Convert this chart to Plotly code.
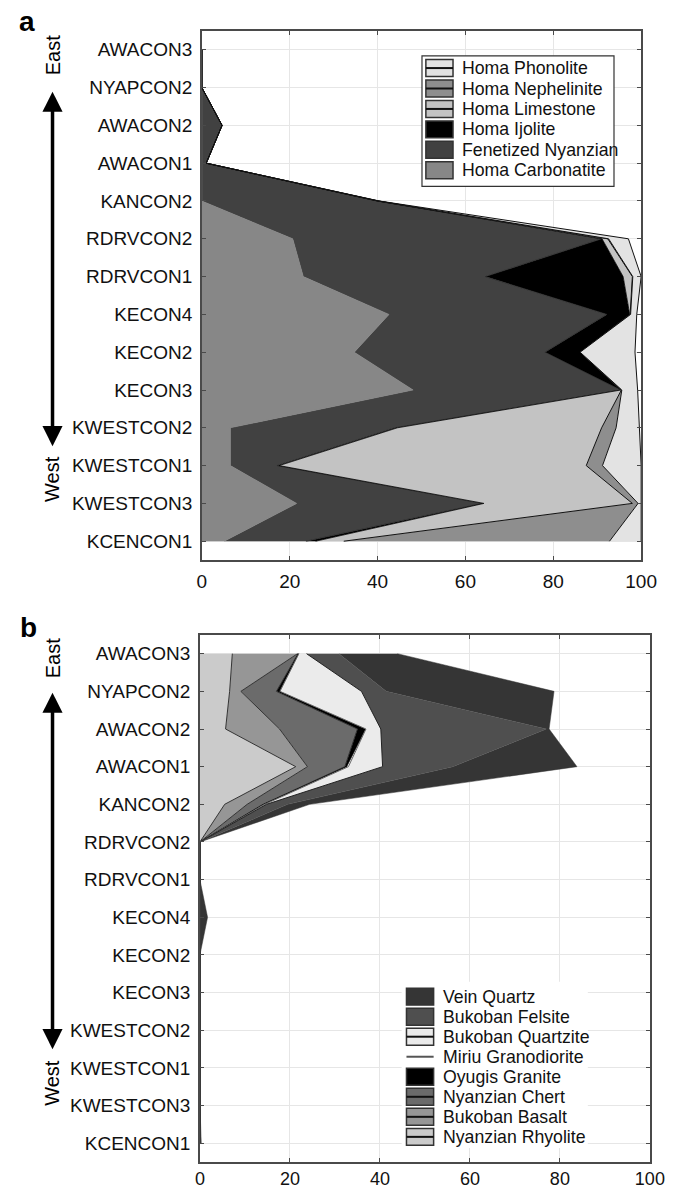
import plotly.graph_objects as go

# ---------------- data ----------------
samples = ["AWACON3", "NYAPCON2", "AWACON2", "AWACON1", "KANCON2", "RDRVCON2", "RDRVCON1",
           "KECON4", "KECON2", "KECON3", "KWESTCON2", "KWESTCON1", "KWESTCON3", "KCENCON1"]

# panel a (percent)
homa_carbonatite = [0, 0, 0, 0, 0, 20.7, 23.1, 42.6, 34.7, 48.1, 6.5, 6.5, 21.6, 5.1]
fenetized_nyanzian = [0, 0, 4.6, 1.0, 39.9, 70.3, 41.4, 49.6, 43.4, 47.2, 37.4, 10.6, 42.2, 18.6]
homa_ijolite = [0, 0, 0, 0, 0.1, 0.1, 31.4, 5.2, 8.0, 0.1, 0.6, 0.5, 0.4, 2.2]
homa_limestone = [0, 0, 0, 0, 0.1, 1.3, 2.1, 0.1, 0, 0.1, 46.5, 69.9, 33.8, 6.4]
homa_nephelinite = [0, 0, 0, 0, 0.1, 0.2, 0.1, 0.1, 0, 0.1, 3.3, 3.7, 1.3, 60.5]
homa_phonolite = [0, 0, 0, 0, 0.2, 4.5, 1.9, 1.4, 12.5, 3.6, 5.3, 8.8, 0.7, 7.2]

# panel b (percent)
nyanzian_rhyolite = [7.2, 6.6, 5.7, 21.3, 5.5, 0, 0, 0, 0, 0, 0, 0, 0, 0]
bukoban_basalt = [14.5, 2.5, 12.0, 2.6, 5.0, 0, 0, 0, 0, 0, 0, 0, 0, 0]
nyanzian_chert = [0.1, 7.9, 17.3, 8.3, 3.5, 0, 0, 0, 0, 0, 0, 0, 0, 0]
oyugis_granite = [0.1, 0.7, 1.8, 0.4, 0.2, 0, 0, 0, 0, 0, 0, 0, 0, 0]
miriu_granodiorite = [0.1, 0.1, 0.1, 0.4, 0.2, 0, 0, 0, 0, 0, 0, 0, 0, 0]
bukoban_quartzite = [1.7, 18.1, 3.3, 7.6, 0.4, 0, 0, 0, 0, 0, 0, 0, 0, 0]
bukoban_felsite = [7.2, 5.5, 36.8, 15.6, 4.7, 0, 0, 0, 0, 0, 0, 0, 0, 0]
vein_quartz = [13.0, 37.3, 0.6, 27.6, 4.9, 0, 0, 1.7, 0, 0, 0, 0, 0, 0.3]

x_ticks = [0, 20, 40, 60, 80, 100]

# ---------------- layout helpers ----------------
W, H = 694, 1189
FONT = "Liberation Sans, Arial, sans-serif"


def fx(p):
    return p / W


def fy(p):
    return 1 - p / H


# (name, values, fill, line color, line width, legend style)
panel_a = [
    ("Homa Carbonatite", homa_carbonatite, "#878787", "#878787", 0.5, "box"),
    ("Fenetized Nyanzian", fenetized_nyanzian, "#414141", "#2a2a2a", 0.8, "box"),
    ("Homa Ijolite", homa_ijolite, "#000000", "#000000", 0.8, "box"),
    ("Homa Limestone", homa_limestone, "#c3c3c3", "#111111", 1.0, "boxline"),
    ("Homa Nephelinite", homa_nephelinite, "#8e8e8e", "#111111", 1.0, "boxline"),
    ("Homa Phonolite", homa_phonolite, "#e3e3e3", "#111111", 1.0, "boxline"),
]
panel_b = [
    ("Nyanzian Rhyolite", nyanzian_rhyolite, "#cbcbcb", "#333333", 1.0, "boxline"),
    ("Bukoban Basalt", bukoban_basalt, "#969696", "#333333", 1.0, "boxline"),
    ("Nyanzian Chert", nyanzian_chert, "#6b6b6b", "#333333", 1.0, "boxline"),
    ("Oyugis Granite", oyugis_granite, "#000000", "#000000", 0.8, "box"),
    ("Miriu Granodiorite", miriu_granodiorite, None, "#666666", 1.0, "line"),
    ("Bukoban Quartzite", bukoban_quartzite, "#ebebeb", "#222222", 1.0, "boxline"),
    ("Bukoban Felsite", bukoban_felsite, "#4f4f4f", "#4f4f4f", 0.5, "box"),
    ("Vein Quartz", vein_quartz, "#353535", "#353535", 0.5, "box"),
]

fig = go.Figure()

for name, vals, fill, lc, lw, _ in panel_a:
    fig.add_trace(go.Scatter(x=vals, y=samples, orientation="h", stackgroup="a",
                             mode="lines", line=dict(color=lc, width=lw),
                             fillcolor=fill, name=name, showlegend=False,
                             xaxis="x", yaxis="y", hoverinfo="skip"))

for name, vals, fill, lc, lw, _ in panel_b:
    kw = dict(fillcolor=fill) if fill else dict(fill="none")
    fig.add_trace(go.Scatter(x=vals, y=samples, orientation="h", stackgroup="b",
                             mode="lines", line=dict(color=lc, width=lw),
                             name=name, showlegend=False,
                             xaxis="x2", yaxis="y2", hoverinfo="skip", **kw))

axis_common = dict(showline=True, linecolor="#4a4a4a", linewidth=1.5, mirror="ticks",
                   ticks="inside", ticklen=4, tickcolor="#4a4a4a", showgrid=True,
                   gridcolor="#e6e6e6", gridwidth=1, zeroline=False,
                   tickfont=dict(family=FONT, size=19, color="#111111"))

xa = dict(axis_common, range=[0, 100], tickvals=x_ticks)
ya = dict(axis_common, type="category", categoryorder="array", categoryarray=samples,
          range=[13.5, -0.5], ticklabelstandoff=4)

fig.update_layout(
    width=W, height=H, margin=dict(l=0, r=0, t=0, b=0),
    paper_bgcolor="white", plot_bgcolor="white", showlegend=False,
    xaxis=dict(xa, domain=[fx(203), fx(656)], anchor="y", ticklabelstandoff=3),
    yaxis=dict(ya, domain=[fy(562), fy(31)], anchor="x"),
    xaxis2=dict(xa, domain=[fx(201), fx(665)], anchor="y2", ticklabelstandoff=0,
                tickfont=dict(family=FONT, size=18, color="#111111")),
    yaxis2=dict(ya, domain=[fy(1166), fy(637)], anchor="x2"),
)

shapes = []
annotations = []

# panel labels
annotations.append(dict(text="<b>a</b>", x=fx(23), y=fy(22), xref="paper", yref="paper",
                        xanchor="center", yanchor="middle",
                        showarrow=False, font=dict(family=FONT, size=28, color="black")))
annotations.append(dict(text="<b>b</b>", x=fx(24), y=fy(630), xref="paper", yref="paper",
                        xanchor="center", yanchor="middle",
                        showarrow=False, font=dict(family=FONT, size=28, color="black")))

# East / West arrows
for top, bottom, east_y, west_y in [(92, 448, 56, 481), (695, 1053, 661, 1087)]:
    annotations.append(dict(text="", x=fx(49), y=fy(top), xref="paper", yref="paper",
                            ax=0, ay=bottom - top, showarrow=True, arrowside="end+start",
                            arrowhead=2, startarrowhead=2, arrowsize=1.15, startarrowsize=1.15,
                            arrowwidth=3.5, arrowcolor="black", standoff=0, startstandoff=0))
    annotations.append(dict(text="East", x=fx(49), y=fy(east_y), xref="paper", yref="paper",
                            xanchor="center", yanchor="middle",
                            showarrow=False, textangle=-90,
                            font=dict(family=FONT, size=20, color="black")))
    annotations.append(dict(text="West", x=fx(49), y=fy(west_y), xref="paper", yref="paper",
                            xanchor="center", yanchor="middle",
                            showarrow=False, textangle=-90,
                            font=dict(family=FONT, size=20, color="black")))


def add_legend(items, sw_x0, text_x, row0, dy):
    for i, (name, _, fill, lc, _, style) in enumerate(items):
        cy = row0 + i * dy
        y0, y1 = cy - 8.5, cy + 8.5
        if style in ("box", "boxline"):
            shapes.append(dict(type="rect", xref="paper", yref="paper", layer="above",
                               x0=fx(sw_x0), x1=fx(sw_x0 + 28), y0=fy(y1), y1=fy(y0),
                               fillcolor=fill, line=dict(color="#333333", width=1.5)))
        if style == "boxline":
            shapes.append(dict(type="line", xref="paper", yref="paper", layer="above",
                               x0=fx(sw_x0), x1=fx(sw_x0 + 28), y0=fy(cy), y1=fy(cy),
                               line=dict(color="#111111", width=2)))
        if style == "line":
            shapes.append(dict(type="line", xref="paper", yref="paper", layer="above",
                               x0=fx(sw_x0), x1=fx(sw_x0 + 28), y0=fy(cy), y1=fy(cy),
                               line=dict(color="#555555", width=2)))
        annotations.append(dict(text=name, x=fx(text_x), y=fy(cy), xref="paper", yref="paper",
                                xanchor="left", yanchor="middle", showarrow=False,
                                font=dict(family=FONT, size=17.7, color="#111111")))


# legend a (box)
shapes.append(dict(type="rect", xref="paper", yref="paper", layer="above",
                   x0=fx(430), x1=fx(628), y0=fy(187), y1=fy(56),
                   fillcolor="white", line=dict(color="#333333", width=1.2)))
add_legend(list(reversed(panel_a)), 434, 469, 68.3, 20.5)

# legend b (no frame, white background)
shapes.append(dict(type="rect", xref="paper", yref="paper", layer="above",
                   x0=fx(409), x1=fx(601), y0=fy(1152), y1=fy(985),
                   fillcolor="white", line=dict(width=0)))
add_legend(list(reversed(panel_b)), 414, 450, 1000, 20.1)

fig.update_layout(shapes=shapes, annotations=annotations)

fig.write_html("out.html", config={"displayModeBar": False},
               post_script="document.body.style.margin='0px';"
                           "document.body.style.overflow='hidden';")
